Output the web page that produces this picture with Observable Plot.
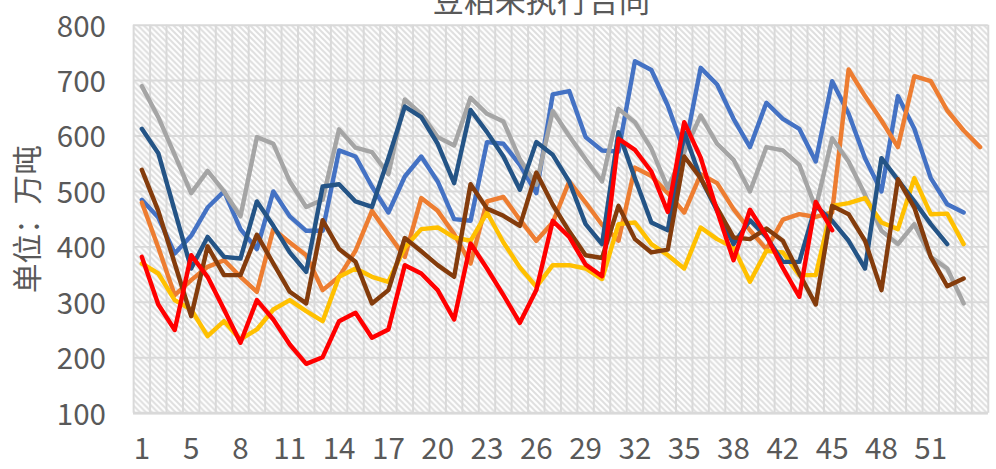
<!DOCTYPE html>
<html>
<head>
<meta charset="utf-8">
<script src="https://cdn.jsdelivr.net/npm/d3@7"></script>
<script src="https://cdn.jsdelivr.net/npm/@observablehq/plot@0.6"></script>
<style>
  html, body { margin: 0; padding: 0; background: #fff; overflow: hidden; width: 996px; height: 469px; }
  #chart { position: relative; width: 996px; height: 469px; overflow: hidden; }
  #chart svg { display: block; }
</style>
</head>
<body>
<div id="chart"></div>
<script>
// ---- data ----
const title = "豆粕未执行合同";
const yLabel = "单位：万吨";
const categories = ["1","2","4","5","6","7","8","9","10","11","12","13","14","15","16","17","18","19","20","21","22","23","24","25","26","27","28","29","30","31","32","33","34","35","36","37","38","39","41","42","43","44","45","46","47","48","49","50","51","52","53","54"];
const labelIndexes = [0,3,6,9,12,15,18,21,24,27,30,33,36,39,42,45,48];
const yTicks = [100,200,300,400,500,600,700,800];

const seriesBlue = [485,453,388,420,471,500,432,396,500,455,429,429,574,563,509,462,527,563,518,450,447,589,586,548,497,675,681,598,574,572,735,719,655,572,723,693,631,580,660,631,613,554,699,640,560,500,672,613,524,477,462];
const seriesOrange = [480,399,313,340,364,376,346,319,432,408,385,322,346,393,465,423,382,488,465,423,370,482,490,449,411,444,518,480,440,411,543,528,497,462,531,515,468,430,396,449,459,454,462,720,672,628,580,708,699,646,610,580];
const seriesGray = [690,634,566,497,537,500,455,598,586,518,472,485,612,579,571,531,666,640,598,583,669,640,626,558,512,645,600,558,518,649,625,577,506,572,637,586,557,500,580,574,548,470,596,554,494,429,405,441,382,361,298];
const seriesYellow = [370,352,304,287,239,266,233,251,287,304,284,266,346,361,346,337,399,432,435,417,411,462,408,363,328,367,367,361,342,441,444,405,385,361,435,414,399,337,393,390,349,349,474,479,488,444,432,524,459,460,405];
const seriesDarkBlue = [613,569,465,361,418,382,379,482,438,390,355,509,513,482,472,560,653,634,586,515,647,607,563,503,589,566,518,441,405,607,524,444,430,607,524,465,405,448,418,373,373,474,447,411,361,560,521,482,441,405];
const seriesBrown = [539,465,370,275,401,349,349,422,370,319,298,448,396,373,298,322,416,392,367,346,513,469,456,438,534,476,428,385,380,474,414,390,395,563,524,470,417,414,433,411,352,296,474,459,411,322,522,471,382,329,343];
const seriesRed = [382,296,250,385,346,287,227,304,269,224,189,201,266,281,236,251,367,352,322,269,406,361,313,263,322,447,418,368,347,595,575,536,463,625,561,465,376,467,420,362,310,481,430];

const series = [
  {values: seriesBlue, color: "#4472C4"},
  {values: seriesOrange, color: "#ED7D31"},
  {values: seriesGray, color: "#A5A5A5"},
  {values: seriesYellow, color: "#FFC000"},
  {values: seriesDarkBlue, color: "#245486"},
  {values: seriesBrown, color: "#843C0C"},
  {values: seriesRed, color: "#FF0000"}
];

const font = "'Noto Sans CJK SC', 'Noto Sans', sans-serif";
const textColor = "#595959";
const gridColor = "#d9d9d9";

const lineMarks = series.map(s => Plot.line(s.values, {
  x: (d, i) => i + 0.5,
  y: d => d,
  stroke: s.color,
  strokeWidth: 4.5,
  strokeLinejoin: "round",
  strokeLinecap: "round"
}));

const chart = Plot.plot({
  width: 1010,
  height: 469,
  marginLeft: 135,
  marginRight: 8.3,
  marginTop: 25,
  marginBottom: 50.5,
  style: {fontFamily: font, background: "transparent", color: textColor, overflow: "hidden"},
  x: {domain: [0, categories.length], axis: null},
  y: {domain: [100, 800], axis: null},
  marks: [
    Plot.frame({fill: "url(#hatch)", stroke: null}),
    Plot.ruleX(d3.range(categories.length + 1), {stroke: gridColor, strokeWidth: 2}),
    Plot.gridY(yTicks, {stroke: gridColor, strokeOpacity: 1, strokeWidth: 2}),
    Plot.ruleY([100], {stroke: gridColor, strokeWidth: 2.7}),
    Plot.axisY(yTicks, {
      tickSize: 0, tickPadding: 28, fontSize: 30, fill: textColor, dy: 2,
      label: yLabel, labelAnchor: "center", labelOffset: 118, labelArrow: "none"
    }),
    Plot.axisX(labelIndexes.map(i => i + 0.5), {
      tickSize: 0, tickPadding: 25, fontSize: 30, fill: textColor,
      tickFormat: d => categories[Math.round(d - 0.5)], label: null
    }),
    ...lineMarks
  ]
});

const svg = d3.select(chart);
svg.insert("defs", ":first-child").html(
  '<pattern id="hatch" patternUnits="userSpaceOnUse" width="6" height="6">' +
  '<rect width="6" height="6" fill="#ffffff"/>' +
  '<path d="M-1,-1 L7,7 M-1,5 L1,7 M5,-1 L7,1" stroke="#dedede" stroke-width="2"/>' +
  '</pattern>'
);
svg.append("text")
  .attr("x", 549).attr("y", 12)
  .attr("text-anchor", "middle")
  .attr("font-size", 31.5)
  .attr("font-family", font)
  .attr("fill", textColor)
  .text(title);

document.getElementById("chart").appendChild(chart);
</script>
</body>
</html>
